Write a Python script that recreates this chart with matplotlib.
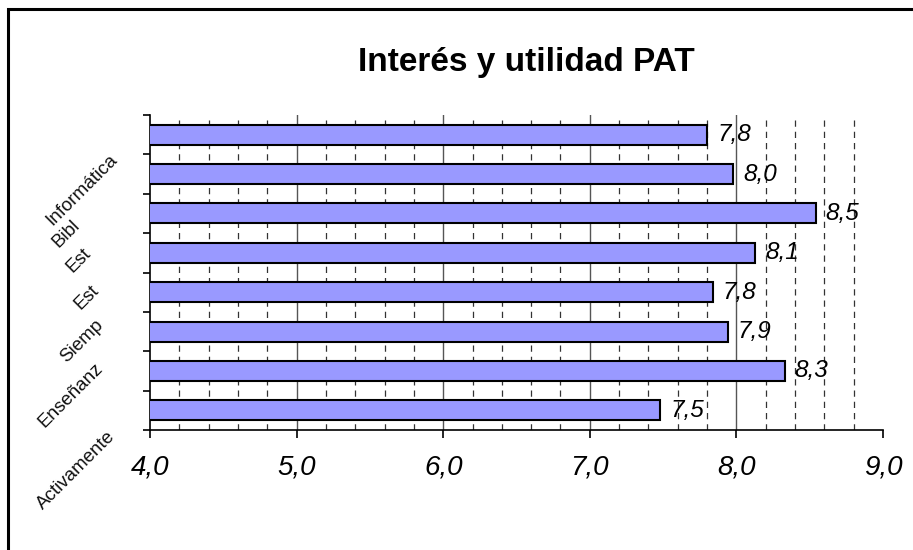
import matplotlib
matplotlib.use("Agg")
import matplotlib.pyplot as plt
import matplotlib.patches as mpatches
import numpy as np

plt.rcParams['font.family'] = ['Liberation Sans', 'DejaVu Sans']

# data, top to bottom as in the picture
categories = ["Informática", "Bibl", "Est", "Est", "Siemp", "Enseñanz", "", "Activamente"]
values = [7.80, 7.98, 8.54, 8.13, 7.84, 7.94, 8.33, 7.48]

# where each (clipped) category label starts, in pixels from the axis / bar centre
label_dx = [-98, -92, -77, -69, -84, -106, 0, -107]
label_dy = [-91, -74, -60, -57, -71, -96, 0, -100]

W, H = 913, 550
fig = plt.figure(figsize=(W / 100, H / 100), dpi=100)
ax = fig.add_axes([150 / W, 1 - 430 / H, (883 - 150) / W, (430 - 115) / H])

y = np.arange(len(values))
ax.barh(y, values, height=0.51, left=0, color='#9999FF', edgecolor='black',
        linewidth=1.5, zorder=3)

ax.set_xlim(4.0, 9.0)
ax.set_ylim(len(values) - 0.5, -0.5)

# gridlines: solid majors, dashed minors every 0.2
for gx in np.arange(5.0, 9.0, 1.0):
    ax.axvline(gx, color='#555555', lw=1.0, zorder=1)
for gx in np.arange(4.2, 9.0, 0.2):
    if abs(gx - round(gx)) > 1e-6:
        ax.axvline(gx, color='#333333', lw=0.9, dashes=(5, 4), zorder=1)

ax.set_xticks(np.arange(4.0, 9.01, 1.0))
ax.set_xticklabels([f"{v:.1f}".replace('.', ',') for v in np.arange(4.0, 9.01, 1.0)],
                   fontsize=20, style='italic')
ax.tick_params(axis='x', direction='out', length=6, width=1.2, pad=12)

ax.set_yticks(np.arange(-0.5, len(values), 1.0))
ax.set_yticklabels([])
ax.tick_params(axis='y', direction='out', length=5, width=1.2)

for side in ['top', 'right']:
    ax.spines[side].set_visible(False)
ax.spines['left'].set_linewidth(1.2)
ax.spines['bottom'].set_linewidth(1.2)

# value labels
for yi, v in zip(y, values):
    ax.annotate(f"{v:.1f}".replace('.', ','), xy=(v, yi), xytext=(10, 0),
                textcoords='offset pixels', ha='left', va='center',
                fontsize=17.5, style='italic', zorder=4)

# rotated category labels
tr = ax.get_yaxis_transform()
for yi, lab, dx, dy in zip(y, categories, label_dx, label_dy):
    if lab:
        ax.annotate(lab, xy=(0, yi), xycoords=tr, xytext=(dx, dy),
                    textcoords='offset pixels', rotation=45, rotation_mode='anchor',
                    ha='left', va='baseline', fontsize=13.5, color='#111111',
                    annotation_clip=False)

fig.text(526 / W, 1 - 62 / H, "Interés y utilidad PAT", ha='center', va='center',
         fontsize=24, fontweight='bold')

# outer chart frame (runs off the right and bottom edges)
fig.patches.append(mpatches.Rectangle((8 / W, -0.2), 1.2, 1.2 - 9 / H,
                                      transform=fig.transFigure, fill=False,
                                      edgecolor='black', linewidth=2.2))

fig.savefig("out.png", dpi=100)
